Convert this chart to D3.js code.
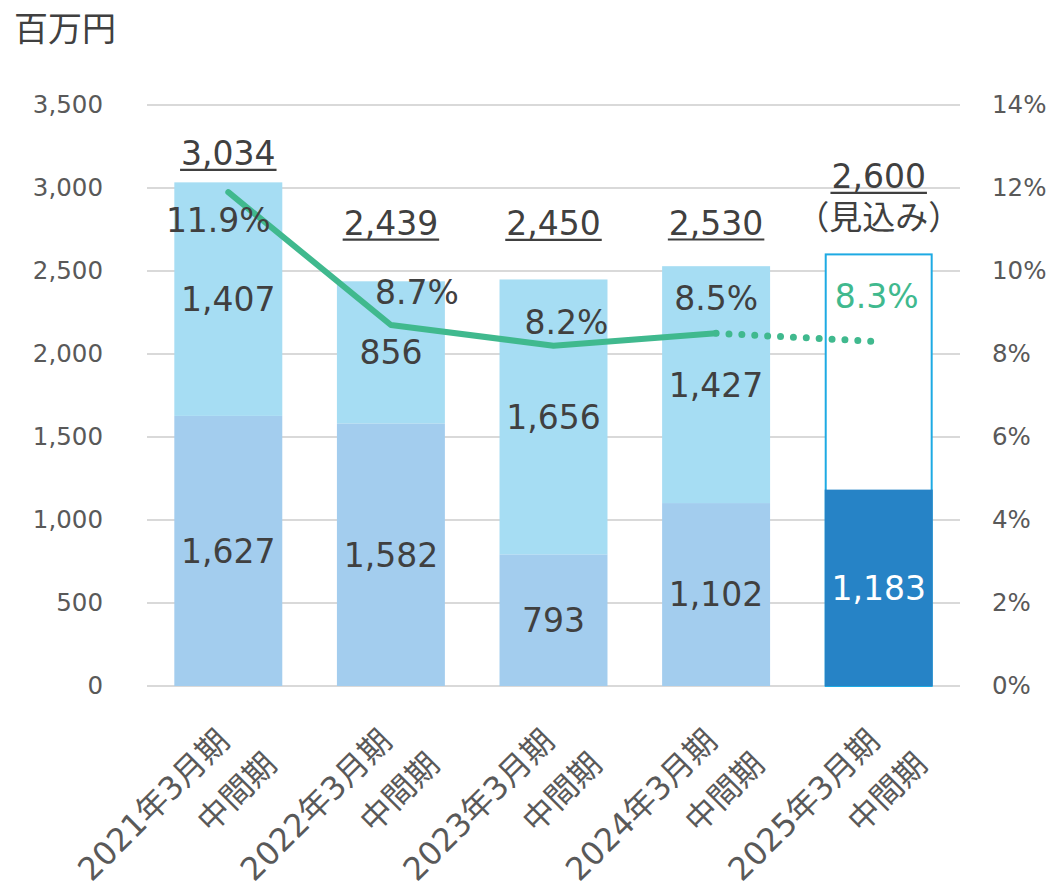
<!DOCTYPE html>
<html>
<head>
<meta charset="utf-8">
<script src="https://cdn.jsdelivr.net/npm/d3@7"></script>
<style>
  body { margin: 0; background: #fff; }
  text { font-family: "DejaVu Sans", "Noto Sans CJK JP", sans-serif; }
</style>
</head>
<body>
<div id="root"></div>
<script>
// data
const periods = ["2021年3月期", "2022年3月期", "2023年3月期", "2024年3月期", "2025年3月期"];
const periodSub = "中間期";
const firstPart = [1627, 1582, 793, 1102, 1183];
const secondPart = [1407, 856, 1656, 1427, null];
const totals = [3034, 2439, 2450, 2530, 2600];
const marginPct = [11.9, 8.7, 8.2, 8.5, 8.3];
const forecastIdx = 4;
const yTicks = [0, 500, 1000, 1500, 2000, 2500, 3000, 3500];
const pctTicks = [0, 2, 4, 6, 8, 10, 12, 14];

const w = 1058, h = 890;
const margin = { top: 105, bottom: 204, left: 147, right: 98 };

const colors = {
    first: "#a3cdee", second: "#a6ddf3", forecast: "#2683c6", outline: "#1eaae3",
    line: "#40b98e", grid: "#d9d9d9", tick: "#595959", label: "#404040"
};

// label nudges (pixels) relative to the point / bar top
const totalLift = [17, 46, 44, 31, 66];
const pctNudge = [[-10, 40], [26, -21], [13, -12], [0, -23], [-2, -34]];

const svg = d3.select("#root").append("svg")
    .attr("width", w).attr("height", h);

const x = d3.scaleBand()
    .domain(periods)
    .range([margin.left, w - margin.right])
    .paddingInner(0.336)
    .paddingOuter(0.168);

const y = d3.scaleLinear().domain([0, 3500]).range([h - margin.bottom, margin.top]);
const yPct = d3.scaleLinear().domain([0, 14]).range([h - margin.bottom, margin.top]);

// unit title
svg.append("text")
    .attr("x", 14).attr("y", 41)
    .attr("fill", colors.label)
    .style("font-size", "34px")
    .text("百万円");

// gridlines
svg.append("g").selectAll("line")
    .data(yTicks)
    .enter().append("line")
    .attr("x1", margin.left).attr("x2", w - margin.right)
    .attr("y1", d => y(d)).attr("y2", d => y(d))
    .attr("stroke", colors.grid).attr("stroke-width", 2);

// left axis
const yAxis = d3.axisLeft(y).tickValues(yTicks).tickSize(0).tickPadding(0)
    .tickFormat(d3.format(","));
svg.append("g")
    .attr("transform", "translate(103,0)")
    .call(yAxis)
    .call(g => g.select(".domain").remove())
    .selectAll("text")
    .attr("fill", colors.tick)
    .style("font-size", "24.5px");

// right axis
const pAxis = d3.axisRight(yPct).tickValues(pctTicks).tickSize(0).tickPadding(0)
    .tickFormat(d => d + "%");
svg.append("g")
    .attr("transform", "translate(992,0)")
    .call(pAxis)
    .call(g => g.select(".domain").remove())
    .selectAll("text")
    .attr("fill", colors.tick)
    .style("font-size", "24.5px");

// bars
const bars = svg.append("g");
periods.forEach((p, i) => {
    if (i === forecastIdx) {
        bars.append("rect")
            .attr("x", x(p) + 1).attr("width", x.bandwidth() - 2)
            .attr("y", y(totals[i])).attr("height", y(0) - y(totals[i]))
            .attr("fill", "#fff")
            .attr("stroke", colors.outline).attr("stroke-width", 2);
        bars.append("rect")
            .attr("x", x(p)).attr("width", x.bandwidth())
            .attr("y", y(firstPart[i])).attr("height", y(0) - y(firstPart[i]))
            .attr("fill", colors.forecast);
    } else {
        bars.append("rect")
            .attr("x", x(p)).attr("width", x.bandwidth())
            .attr("y", y(firstPart[i])).attr("height", y(0) - y(firstPart[i]))
            .attr("fill", colors.first);
        bars.append("rect")
            .attr("x", x(p)).attr("width", x.bandwidth())
            .attr("y", y(firstPart[i] + secondPart[i]))
            .attr("height", y(firstPart[i]) - y(firstPart[i] + secondPart[i]))
            .attr("fill", colors.second);
    }
});

// margin line
const cx = p => x(p) + x.bandwidth() / 2;
const line = d3.line().x(d => cx(d.p)).y(d => yPct(d.v));
const pts = periods.map((p, i) => ({ p: p, v: marginPct[i] }));

svg.append("path")
    .datum(pts.slice(0, forecastIdx))
    .attr("d", line)
    .attr("fill", "none")
    .attr("stroke", colors.line)
    .attr("stroke-width", 6)
    .attr("stroke-linecap", "round")
    .attr("stroke-linejoin", "round");

svg.append("path")
    .datum(pts.slice(forecastIdx - 1))
    .attr("d", line)
    .attr("fill", "none")
    .attr("stroke", colors.line)
    .attr("stroke-width", 7)
    .attr("stroke-linecap", "round")
    .attr("stroke-dasharray", "0 12.9");

// segment labels
const fmt = d3.format(",");
periods.forEach((p, i) => {
    svg.append("text")
        .attr("x", cx(p)).attr("y", (y(0) + y(firstPart[i])) / 2)
        .attr("text-anchor", "middle").attr("dy", "0.36em")
        .attr("fill", i === forecastIdx ? "#fff" : colors.label)
        .style("font-size", "33px")
        .text(fmt(firstPart[i]));
    if (secondPart[i] != null) {
        const top = firstPart[i] + secondPart[i];
        svg.append("text")
            .attr("x", cx(p)).attr("y", (y(firstPart[i]) + y(top)) / 2)
            .attr("text-anchor", "middle").attr("dy", "0.36em")
            .attr("fill", colors.label)
            .style("font-size", "33px")
            .text(fmt(secondPart[i]));
    }
});

// totals, underlined
periods.forEach((p, i) => {
    const by = y(totals[i]) - totalLift[i];
    const t = svg.append("text")
        .attr("x", cx(p)).attr("y", by)
        .attr("text-anchor", "middle")
        .attr("fill", colors.label)
        .style("font-size", "33px")
        .text(fmt(totals[i]));
    const len = t.node().getComputedTextLength();
    svg.append("line")
        .attr("x1", cx(p) - len / 2 - 1).attr("x2", cx(p) + len / 2 + 1)
        .attr("y1", by + 4.5).attr("y2", by + 4.5)
        .attr("stroke", colors.label).attr("stroke-width", 2.2);
    if (i === forecastIdx) {
        svg.append("text")
            .attr("x", cx(p)).attr("y", by + 41)
            .attr("text-anchor", "middle")
            .attr("fill", colors.label)
            .style("font-size", "33px")
            .text("（見込み）");
    }
});

// percentage labels
periods.forEach((p, i) => {
    svg.append("text")
        .attr("x", cx(p) + pctNudge[i][0])
        .attr("y", yPct(marginPct[i]) + pctNudge[i][1])
        .attr("text-anchor", "middle")
        .attr("fill", i === forecastIdx ? colors.line : colors.label)
        .style("font-size", "33px")
        .text(marginPct[i].toFixed(1) + "%");
});

// category labels, rotated
const xl = svg.append("g").selectAll("g")
    .data(periods)
    .enter().append("g")
    .attr("transform", d => "translate(" + (cx(d) + 3) + "," + (y(0) + 57) + ") rotate(-45)");
const xt = xl.append("text")
    .attr("text-anchor", "end")
    .attr("fill", colors.tick)
    .style("font-size", "32px");
xt.append("tspan").attr("x", 0).attr("y", 0).text(d => d);
xt.append("tspan").attr("x", 17).attr("y", 50).text(periodSub);
</script>
</body>
</html>
